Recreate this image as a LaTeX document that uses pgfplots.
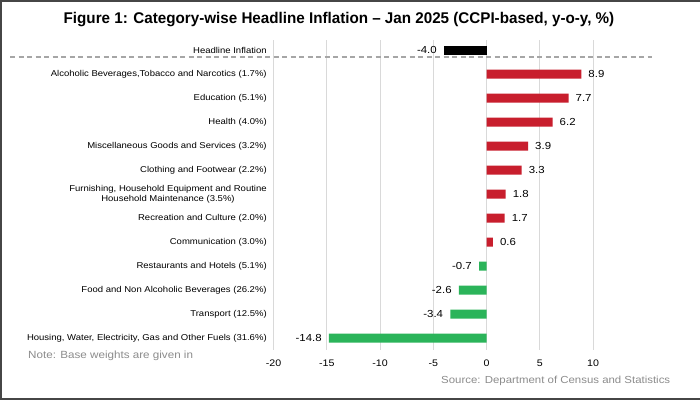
\documentclass[border=0pt]{standalone}
\usepackage{pgfplots}
\pgfplotsset{compat=1.18}
\usepackage{fontspec}
\setmainfont[FakeStretch=1.12]{Liberation Sans}
\newfontfamily\titlefont[FakeStretch=0.98]{Liberation Sans}
\definecolor{barred}{RGB}{200,30,45}
\definecolor{bargreen}{RGB}{43,180,90}
\definecolor{gridgray}{RGB}{217,217,217}
\definecolor{notegray}{RGB}{140,140,140}
\definecolor{framegray}{RGB}{70,70,70}
\begin{document}
\begin{tikzpicture}[x=1pt,y=1pt]
\path[use as bounding box] (0,0) rectangle (700,400);
\fill[white] (0,0) rectangle (700,400);
\begin{axis}[
  at={(273.5pt,50pt)}, anchor=south west,
  scale only axis, width=319.5pt, height=309.6pt,
  xbar, bar width=9pt, bar shift=0pt,
  xmin=-20, xmax=10, ymin=-0.4, ymax=12.5, y dir=reverse,
  axis line style={draw=none},
  tick style={draw=none},
  xtick={-20,-15,-10,-5,0,5,10},
  ytick={0,1,2,3,4,5,6,7,8,9,10,11,12},
  yticklabels={{Headline Inflation},
    {Alcoholic Beverages,Tobacco and Narcotics (1.7\%)},
    {Education (5.1\%)},
    {Health (4.0\%)},
    {Miscellaneous Goods and Services (3.2\%)},
    {Clothing and Footwear (2.2\%)},
    {Furnishing, Household Equipment and Routine\\Household Maintenance (3.5\%)},
    {Recreation and Culture (2.0\%)},
    {Communication (3.0\%)},
    {Restaurants and Hotels (5.1\%)},
    {Food and Non Alcoholic Beverages (26.2\%)},
    {Transport (12.5\%)},
    {Housing, Water, Electricity, Gas and Other Fuels (31.6\%)}},
  yticklabel style={font=\fontsize{8.5}{10}\selectfont, align=center, xshift=1pt},
  xticklabel style={font=\fontsize{9.5}{11}\selectfont, yshift=-6pt},
  /pgf/number format/assume math mode=true,
  xmajorgrids, major grid style={color=gridgray, line width=0.7pt},
  nodes near coords={\pgfmathprintnumber[fixed,fixed zerofill,precision=1]{\pgfplotspointmeta}},
  nodes near coords align=horizontal,
  every node near coord/.append style={font=\fontsize{10.2}{12}\selectfont, inner sep=7pt, /pgf/number format/assume math mode=true},
  clip=false,
]
\addplot[fill=black, draw=none] coordinates {(-4.0,0)};
\addplot[fill=barred, draw=none] coordinates {(8.9,1) (7.7,2) (6.2,3) (3.9,4) (3.3,5) (1.8,6) (1.7,7) (0.6,8)};
\addplot[fill=bargreen, draw=none] coordinates {(-0.7,9) (-2.6,10) (-3.4,11) (-14.8,12)};
\end{axis}
\draw[color=gray!70, line width=1.2pt, dash pattern=on 5pt off 3.5pt] (10,343) -- (652,343);
\node[font=\titlefont\bfseries\fontsize{15.5}{18}\selectfont, anchor=center] at (339,380) {Figure 1: Category-wise Headline Inflation \textendash{} Jan 2025 (CCPI-based, y-o-y, \%)};
\node[font=\fontsize{10.4}{12}\selectfont, text=notegray, anchor=west, inner sep=0pt] at (28,44) {Note: Base weights are given in};
\node[font=\fontsize{10.2}{12}\selectfont, text=notegray, anchor=west, inner sep=0pt] at (441,19) {Source: Department of Census and Statistics};
\draw[framegray, line width=2pt] (700,399) -- (1,399) -- (1,1) -- (700,1);
\end{tikzpicture}
\end{document}
